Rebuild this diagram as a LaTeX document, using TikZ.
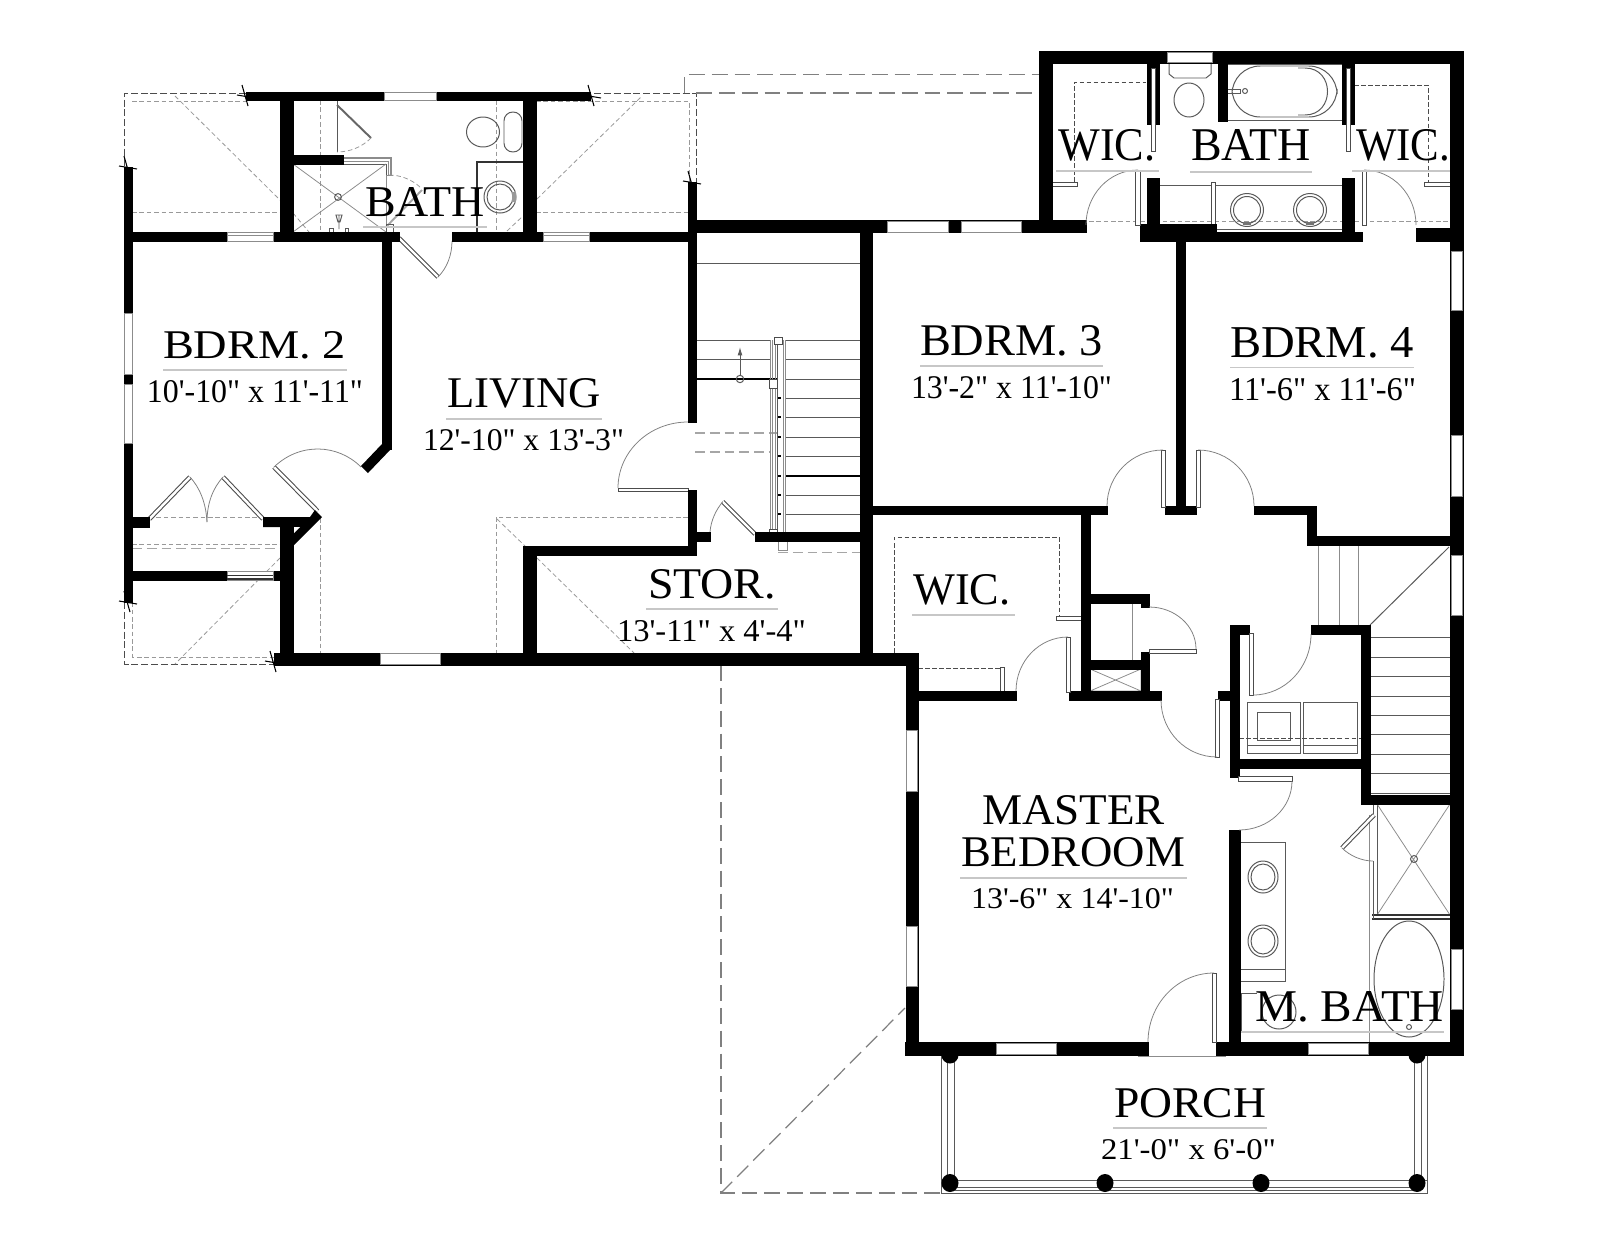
\documentclass[tikz,border=0pt]{standalone}
\usepackage{graphicx}
\usepackage{fontspec}
\usetikzlibrary{calc,arrows.meta}
\newfontfamily\rf{Liberation Serif}
\newdimen\uu \uu=0.01cm
\tikzset{
 x=0.01cm,y=-0.01cm,
 txt/.style={inner sep=0pt,outer sep=0pt,anchor=base,font=\rf,text=black},
 ul/.style={draw=black!22,line width=0.35pt},
 thin1/.style={draw=black!65,line width=0.28pt},
 lt/.style={draw=black!45,line width=0.22pt},
 dk/.style={draw=black!80,line width=0.35pt},
 dot/.style={draw=black!40,line width=0.22pt,dash pattern=on 1.3pt off 0.8pt},
 dsh/.style={draw=black!70,line width=0.28pt,dash pattern=on 2pt off 0.8pt},
 gd/.style={draw=black!35,line width=0.3pt,dash pattern=on 2.8pt off 1.4pt},
 rf2/.style={draw=black!50,line width=0.35pt,dash pattern=on 4.5pt off 2pt},
 dk2/.style={draw=black!70,line width=0.25pt,dash pattern=on 1.3pt off 0.7pt},
 leaf/.style={draw=black!70,fill=white,line width=0.28pt},
 dleaf/.style={draw=black!70,double=white,double distance=0.7pt,line width=0.3pt},
 solidleaf/.style={draw=black!60,line width=0.55pt},
 swing/.style={draw=black!50,line width=0.22pt},
 tick/.style={draw=black,line width=0.3pt},
}
\newcommand\W[4]{\fill[black,draw=black,line width=0.2pt] (#1,#2) rectangle (#3,#4);}
\newcommand\Wn[4]{\fill[white] (#1,#2) rectangle (#3,#4);\draw[lt] (#1,#2) rectangle (#3,#4);}
\newcommand\Qa[6]{\draw[swing] (#1,#2) .. controls ($(#1,#2)+.5523*(#3,#4)-.5523*(#5,#6)$) and ($(#3,#4)+.5523*(#1,#2)-.5523*(#5,#6)$) .. (#3,#4);}
\newcommand\T[6]{\node[txt] (#1) at (#2,#3) {\resizebox{#4\uu}{#5\uu}{#6}};}
\newcommand\Tk[2]{\draw[tick] (#1-4,#2-11) -- (#1+2,#2+10) (#1-9,#2-1) -- (#1+9,#2+2);}
\begin{document}
\begin{tikzpicture}
\useasboundingbox (0,0) rectangle (1600,1236);
\fill[white] (0,0) rectangle (1600,1236);
% roof lines
\draw[dsh] (246,93) -- (124.5,93) -- (124.5,167);
\draw[dsh] (124.5,602) -- (124.5,664) -- (274,664);
\draw[dsh] (594,93) -- (696,93) -- (696,182);
\draw[rf2] (684.5,93) -- (684.5,74.5) -- (1039,74.5);
\draw[rf2] (696,93) -- (1039,93);
\draw[rf2] (721,665) -- (721,1193) -- (941,1193);
\draw[rf2] (721,1193) -- (905,1008);
\draw[dot] (132,101) -- (246,101);
\draw[dot] (132,212) -- (280,212);
\draw[dot] (175,96) -- (280,200);
\draw[dot] (293,213) -- (309,232);
\draw[dot] (507,231) -- (523,216);
\draw[dot] (536,101) -- (689,101) -- (689,182);
\draw[dot] (536,212) -- (689,212);
\draw[dot] (537,199) -- (642,96);
\draw[dot] (320,100) -- (320,232);
\draw[dot] (496,100) -- (496,232);
\draw[dot] (149,517) -- (264,517);
\draw[dot] (132,544) -- (280,544);
\draw[gd] (132,548.5) -- (280,548.5);
\draw[dot] (280,558) -- (175,664);
\draw[dot] (132.7,580) -- (132.7,657) -- (280,657);
\draw[dot] (320,518) -- (320,653);
\draw[dot] (688,517) -- (496,517) -- (496,653);
\draw[dot] (497,519) -- (525,546);
\draw[dot] (537,558) -- (634,653);
\draw[dot] (1052,221) -- (1450,221);
% upper-left bath fixtures
\draw[thin1] (293,164) rectangle (386,232);
\draw[lt] (293,232) -- (386,164) (293,164) -- (386,232);
\draw[thin1] (338,197) circle (3.4);
\draw[lt,line width=0.5pt] (343,158) -- (391,158) -- (391,175);
\draw[lt] (343,161) -- (388,161) -- (388,175) (387,175) -- (393,175);
\draw[thin1] (337,100) -- (337,152);
\draw[solidleaf] (337,105) -- (371,138);
\draw[dot] (371,138) .. controls (362,147) and (350,152) .. (337,152);
\draw[dot] (389,175) .. controls (400,175) and (411,179) .. (420,187);
\draw[solidleaf,draw=black!35] (386,227) -- (422,190);
\draw[lt] (386,175) -- (386,224);
\draw[thin1] (386,224) rectangle (393,232);
\draw[thin1] (339,215) -- (339,229) (336,215) -- (342,215) -- (340,222) -- (338,222) -- cycle;
\draw[thin1] (329.5,228) rectangle (333,232) (345,228) rectangle (348,232);
\draw[thin1] (483,132) ellipse (16.5 and 15);
\draw[thin1,rounded corners=2.5] (504,112) rectangle (522,152);
\draw[dk] (477,232) -- (477,162) -- (523,162);
\draw[thin1] (500,197) circle (16);
\draw[thin1] (500,197) circle (13);
\fill[black!40] (512,192) rectangle (516,202);
% door swings left
\draw[dleaf] (399,238) -- (438,277);
\draw[swing] (438,277) .. controls (447,268) and (452,255) .. (452,241);
\draw[dleaf] (274,467) -- (317.5,511);
\draw[swing] (274,467) .. controls (300,442) and (338,444) .. (361,467);
\draw[dleaf] (149.4,519) -- (190,477);
\draw[dleaf] (263,519) -- (223,477);
\draw[swing] (190,477) .. controls (200,488) and (206,503) .. (207,522);
\draw[swing] (223,477) .. controls (213,488) and (207,503) .. (207,522);
\draw[leaf] (618,488) rectangle (688,491.5);
\Qa{688}{422}{618}{488}{688}{488}
\draw[dleaf] (722.7,501.7) -- (755,534);
\draw[swing] (722.7,501.7) .. controls (716,510) and (711,520) .. (710,532);
% left stairs
\draw[thin1] (696,263) -- (860,263);
\foreach \y in {340,359} {\draw[thin1] (696,\y) -- (770,\y) (785,\y) -- (860,\y);}
\draw[black,line width=0.45pt] (696,379) -- (777,379);
\foreach \y in {379,398,417,437,456,495,514} {\draw[thin1] (785,\y) -- (860,\y);}
\draw[black,line width=0.3pt] (785,476) -- (860,476);
\foreach \y in {398,417,437,456,476,495,514} {\draw[black,line width=0.3pt] (777,\y) -- (781,\y);}
\draw[gd] (695,433) -- (777,433) (695,452) -- (770,452);
\draw[lt] (770,340) -- (770,533) (772,340) -- (772,533) (775,340) -- (775,533);
\draw[thin1] (777,340) -- (777,533);
\draw[lt] (783,340) -- (783,533) (785,340) -- (785,533);
\draw[leaf] (774,337) rectangle (782,344);
\draw[leaf] (769,379) rectangle (777,388);
\draw[leaf] (769,529) rectangle (777,533);
\draw[lt] (778,541) -- (778,550) -- (787,550) -- (787,541);
\draw[gd] (778,552.7) -- (860,552.7);
\draw[thin1,-{Latex[length=2.4pt,width=1.4pt]}] (740,375) -- (740,347);
\draw[thin1] (740,379) circle (3.7);
% upper right bath
\draw[thin1] (1169,63) -- (1169,74) -- (1174,78) -- (1206,78) -- (1211,74) -- (1211,63);
\draw[thin1] (1189,100) ellipse (15 and 17);
\draw[thin1] (1228,64) -- (1342,64) (1228,120) -- (1342,120);
\draw[thin1,rounded corners=8] (1232,66) rectangle (1337,117);
\draw[thin1] (1298,68) -- (1305,68) .. controls (1335,68) and (1335,115) .. (1305,115) -- (1298,115);
\draw[thin1] (1227,89) -- (1240,89) -- (1240,93) -- (1227,93);
\draw[thin1] (1245,91) circle (2.5);
\draw[thin1] (1159,185) -- (1342,185);
\draw[leaf] (1211,182) rectangle (1215,225);
\draw[thin1] (1216,229.5) -- (1342,229.5);
\foreach \x in {1247,1310} {\draw[thin1] (\x,210) circle (16.5); \draw[thin1] (\x,210) circle (13.5); \fill[black!55] (\x-4,222) rectangle (\x+4,225);}
\draw[dk2] (1074,182) -- (1074,82) -- (1146,82);
\draw[dk2] (1354,85) -- (1428,85) -- (1428,182);
\draw[leaf] (1052,182) rectangle (1077,186);
\draw[leaf] (1424,182) rectangle (1450,186);
% right house stairs
\foreach \x in {1318,1339,1358} {\draw[lt] (\x,545) -- (\x,625);}
\draw[thin1] (1449,547) -- (1370,625);
\foreach \y in {637,657,676,696,715,734,754,773,793} {\draw[thin1] (1370,\y) -- (1450,\y);}
% closets, WIC lower
\draw[dk2] (894,653) -- (894,537) -- (1059,537) -- (1059,616);
\draw[dk2] (918,668) -- (1000,668);
\draw[leaf] (1056,616) rectangle (1081,620);
\draw[leaf] (1000,667) rectangle (1004,691);
\draw[lt] (1132,603) -- (1132,660);
\draw[lt] (1090,669) rectangle (1141,691) (1090,669) -- (1141,691) (1090,691) -- (1141,669);
% laundry
\draw[thin1] (1247,702) rectangle (1300,753) (1303,702) rectangle (1357,753);
\draw[thin1] (1257,712) rectangle (1290,740);
\draw[thin1] (1247,745) -- (1300,745) (1303,745) -- (1357,745);
\draw[dk2] (1239,738) -- (1361,738);
% master bath
\draw[thin1] (1240,842) -- (1285,842) -- (1285,981) -- (1240,981) (1240,969) -- (1285,969);
\foreach \y in {877,941} {\draw[thin1] (1263,\y) ellipse (15 and 16); \draw[thin1] (1263,\y) ellipse (12 and 13);}
\draw[thin1] (1377,804) rectangle (1450,915);
\draw[lt] (1377,804) -- (1450,915) (1377,915) -- (1450,804);
\draw[thin1] (1414,859) circle (3.5);
\draw[dk] (1372,915) -- (1450,915) (1372,919) -- (1450,919);
\draw[thin1] (1373,815) -- (1373,804) (1373,861) -- (1373,919);
\draw[lt] (1369,815) -- (1369,1055);
\draw[dleaf] (1374,815) -- (1342,848);
\draw[swing] (1342,848) .. controls (1350,856) and (1362,861) .. (1373,861);
\draw[thin1] (1409,979) ellipse (35 and 58);
\draw[thin1] (1409,1027) circle (2.5);
\draw[thin1] (1241,993) -- (1257,993) (1241,993) -- (1241,1032) -- (1257,1032);
\draw[thin1] (1279,1012) circle (17);
% walls
\W{246}{92.5}{590}{100.7}
\W{280}{100}{293}{241}
\W{523}{100}{536}{241}
\W{124}{232}{399}{241}
\W{452}{232}{696}{241}
\W{691}{220}{1086}{232}
\W{124}{167}{132.5}{602}
\W{293}{155}{343}{164}
\W{382}{241}{391}{449}
\fill[black] (391,449) -- (368,473) -- (361,466) -- (382,444) -- cycle;
\W{124}{517}{149}{527}
\fill[black] (263,517) -- (310,517) -- (315,510) -- (322,517) -- (293,546) -- (293,527) -- (263,527) -- cycle;
\fill[white] (293,527) -- (300,527) -- (293,534) -- cycle;
\W{280}{517}{293}{665}
\W{132}{571}{280}{580}
\W{274}{653}{918}{665}
\W{523}{546}{536}{665}
\W{523}{546}{696}{555}
\W{688}{182}{696}{422}
\W{688}{490}{696}{555}
\W{696}{532.5}{710}{541}
\W{755}{532.5}{860}{541}
% right block
\W{1039}{51}{1463}{63}
\W{1039}{51}{1052}{232}
\W{860}{232}{872}{665}
\W{1140}{224}{1216}{241}
\W{1216}{232}{1362}{241}
\W{1176}{232}{1185}{514}
\W{1416}{228}{1463}{241}
\W{1147}{63}{1159}{124}
\W{1147}{178}{1159}{232}
\W{1342}{63}{1354}{124}
\W{1342}{178}{1354}{241}
\W{1218}{63}{1227}{121}
\W{1450}{51}{1463}{1055}
\W{872}{506}{1107}{514}
\W{1165}{506}{1196}{514}
\W{1254}{506}{1316}{514}
\W{1307}{506}{1316}{545}
\W{1307}{536}{1463}{545}
\W{1081}{514}{1090}{700}
\W{906}{653}{918}{1055}
\W{918}{691}{1016}{700}
\W{1069}{691}{1161}{700}
\W{1090}{594}{1149}{603}
\W{1141}{594}{1149}{607}
\W{1141}{652}{1149}{700}
\W{1090}{660}{1141}{669}
\W{1230}{625}{1239}{777}
\W{1230}{625}{1249}{634}
\W{1311}{625}{1370}{634}
\W{1361}{625}{1370}{804}
\W{1230}{759}{1370}{768}
\W{1361}{795}{1463}{804}
\W{1218}{691}{1230}{700}
\W{1229}{830}{1240}{1055}
\W{905.5}{1042}{1148}{1055}
\W{1216}{1042}{1463}{1055}
% windows
\Wn{384}{92}{436}{100.7}
\Wn{227}{232}{273}{241.5}
\Wn{543}{232}{589}{241.5}
\draw[lt] (227,235) -- (273,235) (543,235) -- (589,235);
\Wn{124}{313}{132}{374}
\Wn{124}{384}{132}{443}
\Wn{227}{571}{273}{580}
\draw[dk] (227,575.5) -- (273,575.5) (227,579) -- (273,579);
\Wn{380}{653}{440}{664}
\Wn{887}{221}{948}{232}
\Wn{961}{221}{1021}{232}
\Wn{1167}{52}{1212}{62}
\Wn{1451}{251}{1462}{310}
\Wn{1451}{435}{1462}{496}
\Wn{1451}{555}{1462}{615}
\Wn{1451}{949}{1462}{1009}
\Wn{906}{730}{917}{791}
\Wn{906}{926}{917}{986}
\Wn{996}{1043}{1056}{1054}
\Wn{1308}{1043}{1368}{1054}
% door leaves and swings, right
\draw[leaf] (1135,170) rectangle (1140,225);
\Qa{1138}{170}{1086}{225}{1138}{225}
\draw[leaf] (1362,170) rectangle (1366,225);
\Qa{1364}{170}{1416}{225}{1364}{225}
\draw[leaf] (1151,68) rectangle (1155,151);
\draw[leaf] (1346,68) rectangle (1350,151);
\draw[leaf] (1161,450) rectangle (1165,507);
\Qa{1163}{450}{1107}{506}{1163}{506}
\draw[leaf] (1196,450) rectangle (1200,507);
\Qa{1198}{450}{1254}{506}{1198}{506}
\draw[leaf] (1149,649) rectangle (1196,653);
\Qa{1149}{607}{1196}{649}{1149}{649}
\draw[leaf] (1066.5,637) rectangle (1070.5,692);
\Qa{1068}{637}{1016}{691}{1068}{691}
\draw[leaf] (1215,699) rectangle (1219,757);
\Qa{1161}{700}{1217}{757}{1217}{700}
\draw[leaf] (1249,633) rectangle (1253,695);
\Qa{1253}{695}{1311}{634}{1253}{634}
\draw[leaf] (1238,776) rectangle (1292,781);
\Qa{1292}{781}{1239}{830}{1239}{781}
\draw[leaf] (1212,973) rectangle (1216,1042);
\Qa{1214}{973}{1148}{1042}{1214}{1042}
\draw[lt] (1138,1056) -- (1226,1056);
% porch
\draw[thin1] (941,1056) -- (941,1193) -- (1427,1193) -- (1427,1056);
\draw[thin1] (947,1056) -- (947,1178) (954,1056) -- (954,1178);
\draw[thin1] (1414,1056) -- (1414,1178) (1421,1056) -- (1421,1178);
\draw[thin1] (941,1180) -- (1427,1180) (950,1187) -- (1417,1187) (950,1190) -- (1417,1190);
\foreach \x in {950,1105,1261,1417} {\fill[black] (\x,1183) ellipse (8.5 and 9);}
\foreach \x in {950,1417} {\fill[black] (\x,1055) ellipse (8.5 and 8.5);}
% ticks
\Tk{246}{96}
\Tk{592}{96}
\Tk{692}{182}
\Tk{128}{167}
\Tk{128}{602}
\Tk{274}{662}
% labels
\T{a1}{254.5}{358}{183}{27}{BDRM. 2}
\draw[ul] (163,370) -- (347,370);
\T{a2}{255}{402}{216}{22}{10'-10" x 11'-11"}
\T{b1}{524}{407}{154}{29}{LIVING}
\draw[ul] (446,419) -- (602,419);
\T{b2}{523.5}{450}{201}{21}{12'-10" x 13'-3"}
\T{c1}{425}{216}{120}{29}{BATH}
\draw[ul] (363,227) -- (487,227);
\T{d1}{712}{598}{128}{29}{STOR.}
\draw[ul] (646,609) -- (778,609);
\T{d2}{711.5}{641}{189}{21}{13'-11" x 4'-4"}
\T{e1}{1011.5}{355}{183}{30}{BDRM. 3}
\draw[ul] (920,366) -- (1103,366);
\T{e2}{1011.5}{398}{201}{22}{13'-2" x 11'-10"}
\T{f1}{1322}{357}{184}{30}{BDRM. 4}
\draw[ul] (1230,367.5) -- (1414,367.5);
\T{f2}{1322.5}{400}{187}{22}{11'-6" x 11'-6"}
\T{g1}{1107}{160}{97}{31}{WIC.}
\draw[ul] (1056,171) -- (1159,171);
\T{g2}{1251}{160}{120}{31}{BATH}
\draw[ul] (1190,172) -- (1312,172);
\T{g3}{1403}{160}{94}{31}{WIC.}
\draw[ul] (1352,171) -- (1450,171);
\T{h1}{962}{604}{97}{30}{WIC.}
\draw[ul] (912,615) -- (1015,615);
\T{i1}{1073.5}{824}{183}{29}{MASTER}
\T{i2}{1073}{866}{224}{29}{BEDROOM}
\draw[ul] (960,878) -- (1187,878);
\T{i3}{1072.5}{908}{203}{20}{13'-6" x 14'-10"}
\T{j1}{1349.5}{1021}{189}{30}{M. BATH}
\draw[ul] (1241,1032) -- (1444,1032);
\T{k1}{1190}{1117}{152}{29}{PORCH}
\draw[ul] (1113,1128) -- (1267,1128);
\T{k2}{1188.5}{1159}{175}{20}{21'-0" x 6'-0"}
\end{tikzpicture}
\end{document}
